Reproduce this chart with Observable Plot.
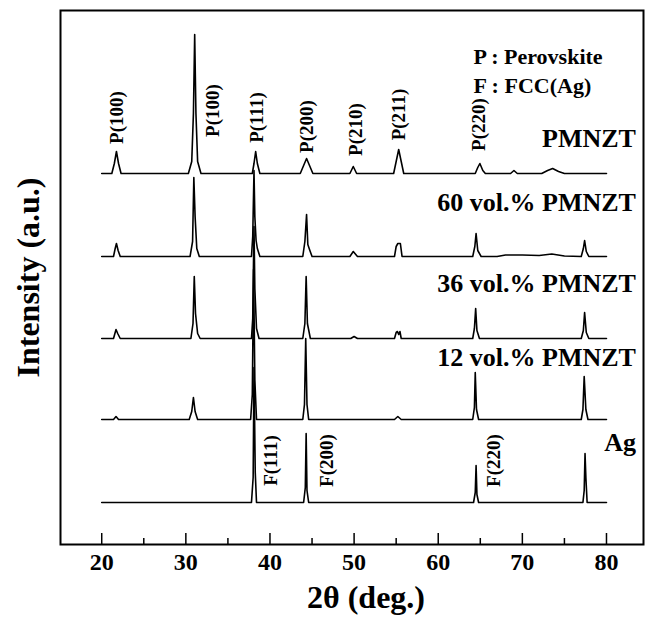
<!DOCTYPE html>
<html>
<head>
<meta charset="utf-8">
<script src="https://cdn.jsdelivr.net/npm/d3@7"></script>
<script src="https://cdn.jsdelivr.net/npm/@observablehq/plot@0.6"></script>
<style>
  html, body { margin: 0; padding: 0; background: white; }
</style>
</head>
<body>
<div id="chart"></div>
<script>
// ---- data (2θ in degrees, intensity in a.u. above each pattern's baseline) ----
const seriesNames = ["PMNZT", "60 vol.% PMNZT", "36 vol.% PMNZT", "12 vol.% PMNZT", "Ag"];
const seriesOffsets = [329, 246, 164, 83, 0];

const pmnzt = [
  [20,0],[21.2,0],[21.5,10],[21.75,22],[22.0,10],[22.3,0],
  [30.3,0],[30.7,12],[30.9,60],[31.05,139],[31.2,60],[31.4,12],[31.8,0],
  [37.9,0],[38.1,10],[38.3,22],[38.5,10],[38.8,0],
  [43.6,0],[44.0,8],[44.35,15],[44.7,8],[45.1,0],
  [49.5,0],[49.9,7],[50.3,0],
  [54.7,0],[55.0,12],[55.3,24],[55.6,12],[55.9,0],
  [64.4,0],[64.7,6],[64.95,10],[65.3,3],[65.6,0],
  [68.6,0],[69.0,3],[69.4,0],
  [72.3,0],[73.0,3],[73.6,5],[74.3,2],[75,0],
  [80,0]
];
const vol60 = [
  [20,0],[21.4,0],[21.6,8],[21.75,13],[21.95,6],[22.2,0],
  [30.5,0],[30.8,15],[30.95,79],[31.1,40],[31.3,8],[31.6,0],
  [37.8,0],[37.95,20],[38.1,86],[38.2,40],[38.35,16],[38.5,8],[38.8,0],
  [43.9,0],[44.15,15],[44.35,42],[44.5,12],[44.7,7],[45.0,0],
  [49.5,0],[49.9,5],[50.4,0],
  [54.8,0],[55.0,10],[55.2,13],[55.5,13],[55.7,0],
  [64.1,0],[64.35,10],[64.5,23],[64.7,6],[65.1,0],
  [67,0],[68,1.5],[70,1.5],[72,1],[73.5,2.5],[75,0.5],
  [77.0,0],[77.25,8],[77.4,16],[77.6,5],[77.9,0],
  [80,0]
];
const vol36 = [
  [20,0],[21.4,0],[21.6,6],[21.7,9],[21.9,5],[22.2,0],
  [30.6,0],[30.85,15],[31.0,62],[31.15,25],[31.4,5],[31.7,0],
  [37.8,0],[37.95,20],[38.1,112],[38.2,50],[38.4,10],[38.7,0],
  [43.9,0],[44.15,15],[44.3,62],[44.45,15],[44.8,0],
  [49.6,0],[50.0,2],[50.4,0],
  [54.8,0],[55.0,6],[55.15,7],[55.3,4],[55.45,7],[55.6,0],
  [64.1,0],[64.3,10],[64.45,30],[64.6,8],[64.9,0],
  [77.0,0],[77.25,8],[77.4,26],[77.6,6],[77.9,0],
  [80,0]
];
const vol12 = [
  [20,0],[21.4,0],[21.7,3],[22.0,0],
  [30.4,0],[30.7,8],[30.9,22],[31.1,8],[31.4,0],
  [37.7,0],[37.9,25],[38.05,150],[38.2,40],[38.4,0],
  [43.9,0],[44.1,15],[44.25,81],[44.4,15],[44.6,0],
  [54.8,0],[55.2,3],[55.6,0],
  [64.1,0],[64.3,12],[64.4,47],[64.55,10],[64.8,0],
  [77.0,0],[77.2,10],[77.35,43],[77.55,10],[77.8,0],
  [80,0]
];
const ag = [
  [20,0],[37.8,0],[38.0,25],[38.1,135],[38.25,30],[38.4,0],
  [44.0,0],[44.2,15],[44.3,69],[44.4,12],[44.6,0],
  [64.2,0],[64.4,10],[64.5,37],[64.6,8],[64.8,0],
  [77.2,0],[77.35,12],[77.45,49],[77.55,25],[77.7,0],
  [80,0]
];
const seriesPoints = [pmnzt, vol60, vol36, vol12, ag];

const xTicks = [20, 30, 40, 50, 60, 70, 80];
const xMinorTicks = [25, 35, 45, 55, 65, 75];

const peakLabels = ["P(100)", "P(100)", "P(111)", "P(200)", "P(210)", "P(211)", "P(220)", "F(111)", "F(200)", "F(220)"];
const peakLabelX = [21.84, 33.25, 38.48, 44.43, 50.18, 55.29, 64.8, 40.07, 46.8, 66.6];
const peakLabelY = [385, 392, 385, 376, 373, 388, 378, 42, 42, 42];

const seriesLabelY = [364, 300, 219, 145, 60];
const legendLines = ["P : Perovskite", "F : FCC(Ag)"];

// ---- chart ----
const serif = "'Liberation Serif', 'Times New Roman', serif";
const lines = seriesPoints.map((pts, i) =>
  Plot.line(pts, {
    x: d => d[0],
    y: d => d[1] + seriesOffsets[i],
    stroke: "black",
    strokeWidth: 1.6
  })
);

const chart = Plot.plot({
  width: 649,
  height: 622,
  marginTop: 10,
  marginBottom: 78,
  marginLeft: 60,
  marginRight: 6,
  x: { domain: [15.1, 84.4], axis: null },
  y: { domain: [-42, 492], axis: null },
  style: { fontFamily: serif, background: "white", color: "black" },
  marks: [
    ...lines,
    Plot.ruleX(xTicks, { x: d => d, y1: -42, y2: -31, stroke: "black", strokeWidth: 1.5 }),
    Plot.ruleX(xMinorTicks, { x: d => d, y1: -42, y2: -36, stroke: "black", strokeWidth: 1.5 }),
    Plot.frame({ stroke: "black", strokeWidth: 2 }),
    Plot.text(xTicks, {
      x: d => d, frameAnchor: "bottom", dy: 25, text: d => String(d),
      textAnchor: "middle", fontSize: 24, fontWeight: "bold", fill: "black"
    }),
    Plot.text(["2θ (deg.)"], {
      frameAnchor: "bottom", dy: 63, dx: 14, text: d => d, textAnchor: "middle",
      fontSize: 32, fontWeight: "bold", fill: "black"
    }),
    Plot.text(["Intensity (a.u.)"], {
      frameAnchor: "left", dx: -32, rotate: -90, text: d => d, textAnchor: "middle",
      fontSize: 32, fontWeight: "bold", fill: "black"
    }),
    Plot.text(seriesNames, {
      x: 83.5, y: seriesLabelY, text: d => d, textAnchor: "end",
      fontSize: 26, fontWeight: "bold", fill: "black"
    }),
    Plot.text(peakLabels, {
      x: peakLabelX, y: peakLabelY, text: d => d, rotate: -90, textAnchor: "middle",
      fontSize: 19, fontWeight: "bold", fill: "black"
    }),
    Plot.text([legendLines[0]], {
      frameAnchor: "top-left", dx: 413, dy: 38, text: d => d, textAnchor: "start",
      fontSize: 22, fontWeight: "bold", fill: "black"
    }),
    Plot.text([legendLines[1]], {
      frameAnchor: "top-left", dx: 413, dy: 67, text: d => d, textAnchor: "start",
      fontSize: 22, fontWeight: "bold", fill: "black"
    })
  ]
});
document.getElementById("chart").appendChild(chart);
</script>
</body>
</html>
